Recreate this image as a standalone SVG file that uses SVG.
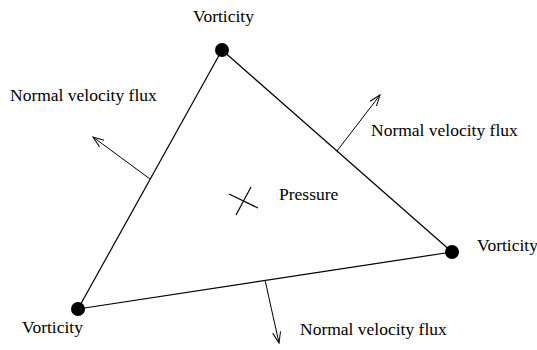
<svg xmlns="http://www.w3.org/2000/svg" width="537" height="350" viewBox="0 0 537 350">
<defs>
<marker id="ah" viewBox="0 0 12 10" refX="11" refY="5" markerWidth="12" markerHeight="10" markerUnits="userSpaceOnUse" orient="auto">
<path d="M0,1 L11,5 L0,9" fill="none" stroke="#000" stroke-width="1"/>
</marker>
<style>
text{font-family:'Liberation Serif','Times New Roman',serif;font-size:17.5px;fill:#000}
.e{stroke:#000;stroke-width:1.2;fill:none}
.a{stroke:#000;stroke-width:1;fill:none;marker-end:url(#ah)}
.v{fill:#000}
</style>
</defs>
<rect width="537" height="350" fill="#fff"/>
<g id="connectors">
<line class="e" x1="222" y1="50" x2="78" y2="309"/>
<line class="e" x1="222" y1="50" x2="452" y2="252"/>
<line class="e" x1="78" y1="309" x2="452" y2="252"/>
<line class="a" x1="150" y1="179" x2="93" y2="137"/>
<line class="a" x1="337" y1="151" x2="380" y2="95"/>
<line class="a" x1="265" y1="280" x2="279" y2="343"/>
</g>
<g id="v-top"><circle class="v" cx="222" cy="50" r="7"/><text x="223.5" y="22" text-anchor="middle">Vorticity</text></g>
<g id="v-right"><circle class="v" cx="452" cy="252" r="7"/><text x="477" y="251">Vorticity</text></g>
<g id="v-left"><circle class="v" cx="78" cy="309" r="7"/><text x="22" y="333">Vorticity</text></g>
<g id="pressure">
<line class="e" x1="229" y1="194" x2="258" y2="208" stroke-width="1"/>
<line class="e" x1="251" y1="187" x2="236" y2="215" stroke-width="1"/>
<text x="279" y="200">Pressure</text>
</g>
<g id="flux-left"><text x="10" y="101">Normal velocity flux</text></g>
<g id="flux-right"><text x="371" y="136">Normal velocity flux</text></g>
<g id="flux-bottom"><text x="300" y="335">Normal velocity flux</text></g>
</svg>
